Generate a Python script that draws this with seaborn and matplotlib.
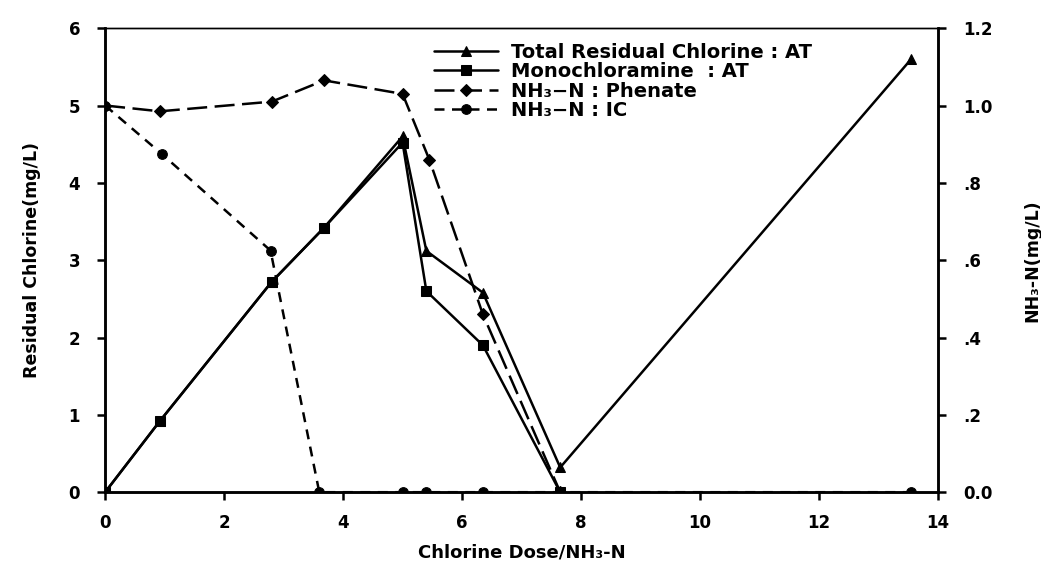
import matplotlib
matplotlib.use("Agg")
import matplotlib.pyplot as plt
import seaborn as sns
import numpy as np

# ---- data ----
dose_total = [0, 0.92, 2.8, 3.68, 5.0, 5.4, 6.35, 7.65, 13.55]
total_cl = [0, 0.92, 2.72, 3.42, 4.6, 3.12, 2.58, 0.32, 5.6]

dose_mono = [0, 0.92, 2.8, 3.68, 5.0, 5.4, 6.35, 7.65]
mono_cl = [0, 0.92, 2.72, 3.42, 4.52, 2.6, 1.9, 0.0]

dose_phen = [0, 0.92, 2.8, 3.68, 5.0, 5.45, 6.35, 7.65]
nh3_phenate = [1.0, 0.985, 1.01, 1.065, 1.03, 0.86, 0.46, 0.0]

dose_ic = [0, 0.95, 2.78, 3.6, 5.0, 5.4, 6.35, 7.65, 13.55]
nh3_ic = [1.0, 0.875, 0.625, 0.0, 0.0, 0.0, 0.0, 0.0, 0.0]

labels = ["Total Residual Chlorine : AT", "Monochloramine  : AT",
          "NH\u2083\u2212N : Phenate", "NH\u2083\u2212N : IC"]
xticks = [0, 2, 4, 6, 8, 10, 12, 14]
yticks_left = [0, 1, 2, 3, 4, 5, 6]
yticks_right = [0.0, 0.2, 0.4, 0.6, 0.8, 1.0, 1.2]
yticklabels_right = ["0.0", ".2", ".4", ".6", ".8", "1.0", "1.2"]

sns.set_style("ticks")
plt.rcParams['font.family'] = ['DejaVu Sans']
plt.rcParams['font.weight'] = 'bold'
for k in ['text.color', 'axes.labelcolor', 'xtick.color', 'ytick.color', 'axes.edgecolor']:
    plt.rcParams[k] = 'black'

fig = plt.figure(figsize=(10.41, 5.75), dpi=100)
ax = fig.add_axes([0.101, 0.144, 0.800, 0.807])
ax2 = ax.twinx()

lw = 1.8
sns.lineplot(x=dose_total, y=total_cl, ax=ax, color="black", lw=lw,
             marker="^", markersize=7, markeredgecolor="black",
             label=labels[0], legend=False)
sns.lineplot(x=dose_mono, y=mono_cl, ax=ax, color="black", lw=lw,
             marker="s", markersize=7, markeredgecolor="black",
             label=labels[1], legend=False)
sns.lineplot(x=dose_phen, y=nh3_phenate, ax=ax2, color="black", lw=lw,
             marker="D", markersize=6, markeredgecolor="black",
             label=labels[2], legend=False)
sns.lineplot(x=dose_ic, y=nh3_ic, ax=ax2, color="black", lw=lw,
             marker="o", markersize=7, markeredgecolor="black",
             label=labels[3], legend=False)

ax2.lines[0].set_dashes((8, 3))
ax2.lines[1].set_dashes((4, 3))

ax.set_xlim(0, 14)
ax.set_ylim(0, 6)
ax2.set_ylim(0, 1.2)
ax.set_xticks(xticks)
ax.set_yticks(yticks_left)
ax2.set_yticks(yticks_right)
ax2.set_yticklabels(yticklabels_right)

for a in (ax, ax2):
    for s in a.spines.values():
        s.set_linewidth(1.8)
        s.set_color("black")
ax.spines['top'].set_linewidth(1.0)
ax2.spines['top'].set_linewidth(1.0)

ax.tick_params(axis='both', direction='out', length=6, width=1.8,
               labelsize=12, colors='black')
ax.tick_params(axis='y', pad=12)
ax.tick_params(axis='x', pad=10)
ax2.tick_params(axis='y', direction='out', length=6, width=1.8,
                labelsize=12, pad=12, colors='black')
for t in ax.get_xticklabels() + ax.get_yticklabels() + ax2.get_yticklabels():
    t.set_fontweight('bold')

ax.set_xlabel("Chlorine Dose/NH\u2083-N", fontsize=13, fontweight='bold', labelpad=8)
ax.set_ylabel("Residual Chlorine(mg/L)", fontsize=12.5, fontweight='bold', labelpad=20)
ax2.set_ylabel("NH\u2083-N(mg/L)", fontsize=12.5, fontweight='bold', labelpad=22, rotation=90)

h1, l1 = ax.get_legend_handles_labels()
h2, l2 = ax2.get_legend_handles_labels()
ax2.legend(h1 + h2, l1 + l2, loc='upper left', bbox_to_anchor=(0.385, 0.985),
           frameon=False, handlelength=3.3, handletextpad=0.7,
           labelspacing=0.02, borderaxespad=0.0,
           prop={'weight': 'bold', 'size': 14})

fig.savefig("out.png", dpi=100)
